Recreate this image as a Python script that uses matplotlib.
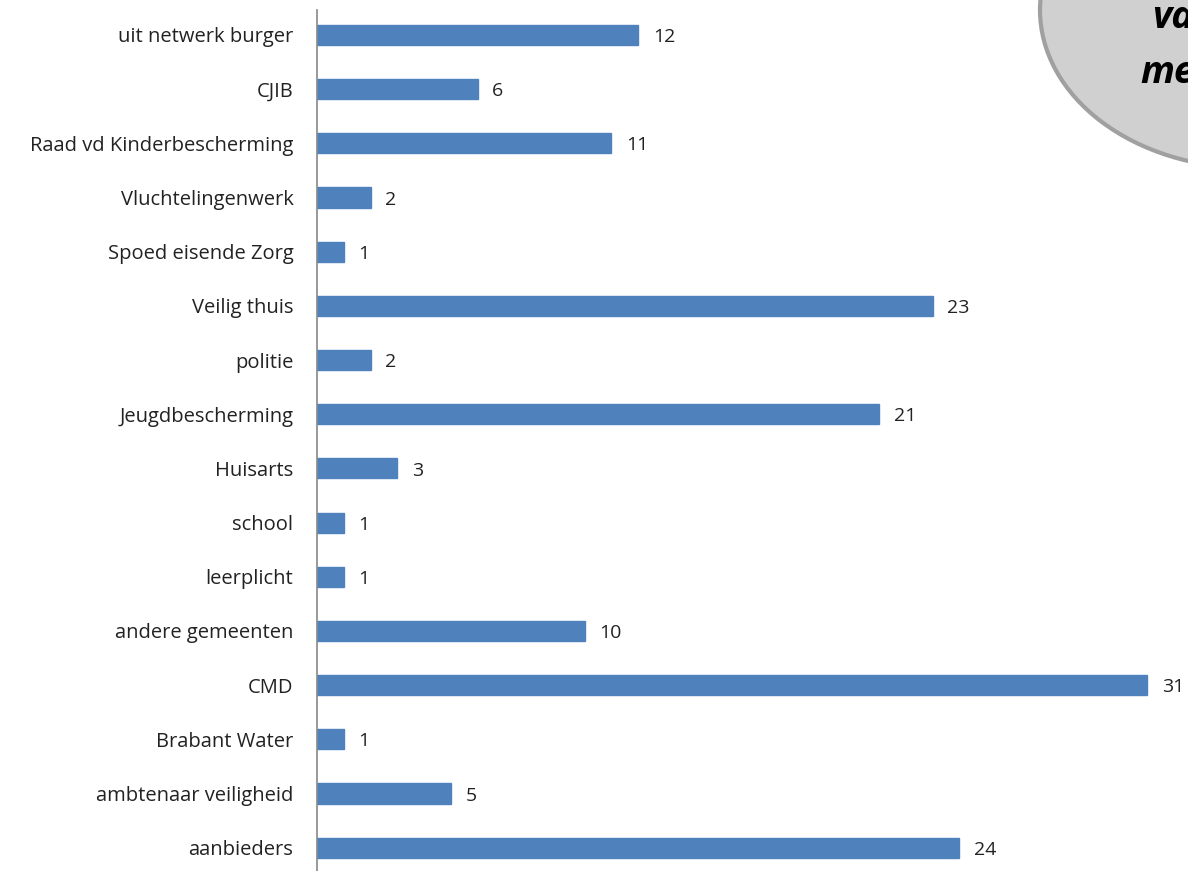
import matplotlib.pyplot as plt
from matplotlib.patches import Ellipse

categories = ["uit netwerk burger", "CJIB", "Raad vd Kinderbescherming",
              "Vluchtelingenwerk", "Spoed eisende Zorg", "Veilig thuis",
              "politie", "Jeugdbescherming", "Huisarts", "school",
              "leerplicht", "andere gemeenten", "CMD", "Brabant Water",
              "ambtenaar veiligheid", "aanbieders"]
values = [12, 6, 11, 2, 1, 23, 2, 21, 3, 1, 1, 10, 31, 1, 5, 24]

W, H = 1188, 871
fig = plt.figure(figsize=(W / 100, H / 100), dpi=100)
plt.rcParams['font.family'] = ['Open Sans', 'DejaVu Sans']

ax = fig.add_axes([317 / W, 0, 1 - 317 / W, (H - 10) / H])
cats = categories[::-1]
vals = values[::-1]
pos = list(range(len(cats)))
ax.barh(pos, vals, height=0.37, color='#4f81bd', edgecolor='#4f81bd')
for p, v in zip(pos, vals):
    ax.text(v + 0.55, p - 0.04, str(v), va='center', ha='left', fontsize=14, color='#222222')

ax.set_xlim(0, (W - 316) / 26.8)
ax.set_ylim(-0.43, 15.46)
ax.set_yticks(pos)
ax.set_yticklabels(cats, fontsize=14.5, color='#222222')
ax.tick_params(axis='y', length=0, pad=17)
ax.set_xticks([])
for s in ['top', 'right', 'bottom']:
    ax.spines[s].set_visible(False)
ax.spines['left'].set_color('#888888')
ax.spines['left'].set_linewidth(1.2)

# grey ellipse callout cut off at the top right
ell = Ellipse((1250 / W, 1 - 10 / H), 420 / W, 316 / H, transform=fig.transFigure,
              facecolor='#d0d0d0', edgecolor='#a0a0a0', linewidth=3, zorder=5)
fig.patches.append(ell)
fig.text(1152 / W, 1 - 28 / H, "va", fontsize=27, fontweight='bold', fontstyle='italic',
         color='black', ha='left', va='baseline', zorder=6)
fig.text(1140 / W, 1 - 83 / H, "me", fontsize=27, fontweight='bold', fontstyle='italic',
         color='black', ha='left', va='baseline', zorder=6)

fig.savefig('out.png', dpi=100)
